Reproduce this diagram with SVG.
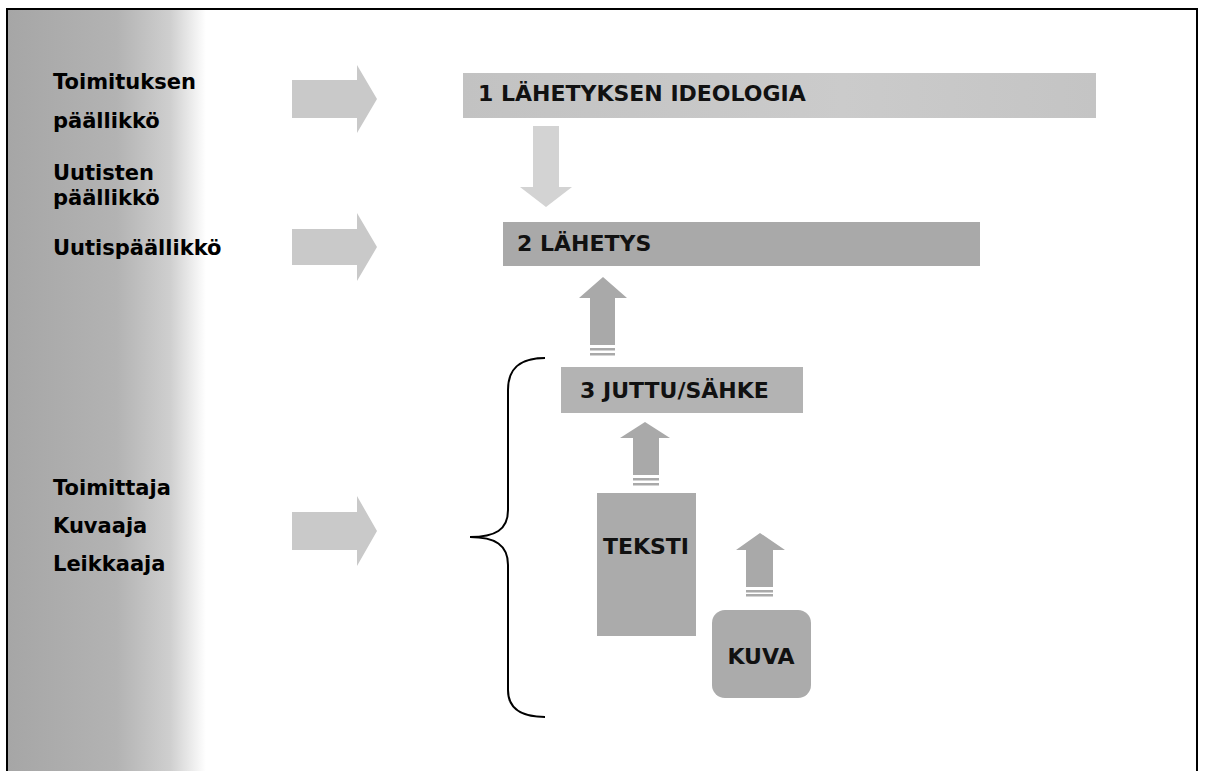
<svg xmlns="http://www.w3.org/2000/svg" width="1205" height="771" viewBox="0 0 1205 771">
<defs>
<linearGradient id="panel" x1="0" y1="0" x2="1" y2="0">
<stop offset="0" stop-color="#a6a6a6"/>
<stop offset="0.55" stop-color="#b3b3b3"/>
<stop offset="0.82" stop-color="#cfcfcf"/>
<stop offset="1" stop-color="#ffffff"/>
</linearGradient>
<linearGradient id="bar1" x1="0" y1="0" x2="1" y2="0">
<stop offset="0" stop-color="#c2c2c2"/>
<stop offset="0.6" stop-color="#cbcbcb"/>
<stop offset="1" stop-color="#c4c4c4"/>
</linearGradient>
<style>
.lbl{font-family:"DejaVu Sans",Verdana,sans-serif;font-weight:bold;font-size:21px;fill:#000}
.bt{font-family:"DejaVu Sans",Verdana,sans-serif;font-weight:bold;font-size:22px;fill:#111}
.light{fill:#c9c9c9}
.dark{fill:#a9a9a9}
.down{fill:#d3d3d3}
.frame{stroke:#000;stroke-width:2;fill:none}
.brace{stroke:#000;stroke-width:2;fill:none}
</style>
</defs>
<rect x="0" y="0" width="1205" height="771" fill="#fff"/>
<rect x="8" y="10" width="198" height="761" fill="url(#panel)"/>
<path class="frame" d="M7,771 V9 H1197 V771"/>

<g id="labels">
<g id="toimituksen"><text class="lbl" x="53" y="89">Toimituksen</text><text class="lbl" x="53" y="128">päällikkö</text></g>
<g id="uutisten"><text class="lbl" x="53" y="180">Uutisten</text><text class="lbl" x="53" y="205">päällikkö</text></g>
<g id="uutispaallikko"><text class="lbl" x="53" y="255">Uutispäällikkö</text></g>
<g id="toimittajat"><text class="lbl" x="53" y="495">Toimittaja</text><text class="lbl" x="53" y="533">Kuvaaja</text><text class="lbl" x="53" y="571">Leikkaaja</text></g>
</g>

<g id="connectors">
<path class="light" d="M292,80 H357 V65 L377,99 L357,133 V118 H292 Z"/>
<path class="light" d="M292,229 H357 V213 L377,247 L357,281 V265 H292 Z"/>
<path class="light" d="M292,512 H357 V496 L377,531 L357,566 V550 H292 Z"/>
<path class="down" d="M533,126 H559 V187 H572 L546,207 L520,187 H533 Z"/>
<path class="dark" d="M603,277 L627,298 H615 V345 H590 V298 H579 Z"/>
<rect class="dark" x="590" y="348" width="25" height="2.5"/>
<rect class="dark" x="590" y="353" width="25" height="2.5"/>
<path class="dark" d="M645,422 L670,438 H659 V475 H633 V438 H620 Z"/>
<rect class="dark" x="633" y="478" width="26" height="2.5"/>
<rect class="dark" x="633" y="483" width="26" height="2.5"/>
<path class="dark" d="M760,533 L785,550 H773 V587 H746 V550 H736 Z"/>
<rect class="dark" x="746" y="590" width="27" height="2.5"/>
<rect class="dark" x="746" y="594" width="27" height="2.5"/>
<path class="brace" d="M545,358 C520,358 508,368 508,390 V510 C508,530 495,537 470,537 C495,537 508,545 508,565 V690 C508,708 520,717 545,717"/>
</g>

<g id="node1">
<rect x="463" y="73" width="633" height="45" fill="url(#bar1)"/>
<text class="bt" x="478" y="101">1  LÄHETYKSEN IDEOLOGIA</text>
</g>
<g id="node2">
<rect x="503" y="222" width="477" height="44" fill="#a9a9a9"/>
<text class="bt" x="517" y="251" font-size="21">2 LÄHETYS</text>
</g>
<g id="node3">
<rect x="561" y="367" width="242" height="46" fill="#b3b3b3"/>
<text class="bt" x="580" y="398">3 JUTTU/SÄHKE</text>
</g>
<g id="teksti">
<rect x="597" y="493" width="99" height="143" fill="#ababab"/>
<text class="bt" x="646" y="554" text-anchor="middle" font-size="21">TEKSTI</text>
</g>
<g id="kuva">
<rect x="712" y="610" width="99" height="88" rx="13" fill="#ababab"/>
<text class="bt" x="761" y="664" text-anchor="middle">KUVA</text>
</g>
</svg>
